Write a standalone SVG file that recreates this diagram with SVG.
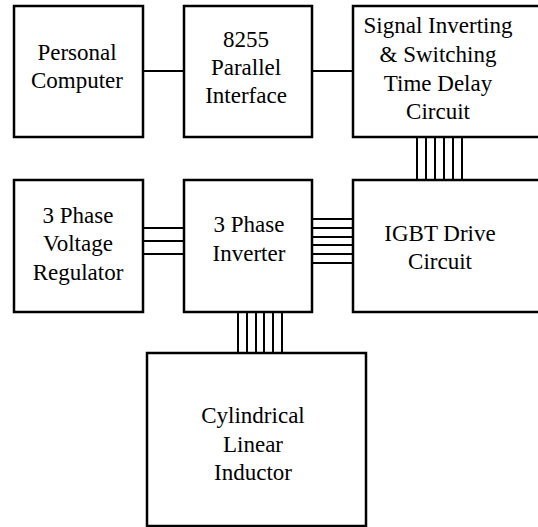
<svg xmlns="http://www.w3.org/2000/svg" width="538" height="527" viewBox="0 0 538 527">
<style>
.box{fill:#fff;stroke:#000;stroke-width:2.5}
.t{font-family:"Liberation Serif","Times New Roman",serif;font-size:23px;fill:#000;text-anchor:middle}
.w{stroke:#000;stroke-width:2;fill:none}
</style>
<rect width="538" height="527" fill="#fff"/>
<g id="connectors">
<line class="w" x1="143" y1="71" x2="184" y2="71"/>
<line class="w" x1="312" y1="71" x2="353" y2="71"/>
<path class="w" d="M417,137V180M426,137V180M435,137V180M444,137V180M453,137V180M462,137V180"/>
<path class="w" d="M143,228H184M143,241H184M143,254H184"/>
<path class="w" d="M312,219H353M312,228H353M312,237H353M312,245H353M312,254H353M312,263H353"/>
<path class="w" d="M238,312V353M247,312V353M256,312V353M264,312V353M273,312V353M282,312V353"/>
</g>
<g id="pc">
<rect class="box" x="14" y="6" width="129" height="131"/>
<text class="t" x="77" y="60">Personal</text>
<text class="t" x="77" y="88">Computer</text>
</g>
<g id="ppi">
<rect class="box" x="184" y="6" width="128" height="131"/>
<text class="t" x="246" y="47">8255</text>
<text class="t" x="246" y="75">Parallel</text>
<text class="t" x="246" y="103">Interface</text>
</g>
<g id="signal">
<rect class="box" x="353" y="6" width="195" height="131"/>
<text class="t" x="438" y="33">Signal Inverting</text>
<text class="t" x="438" y="62">&amp; Switching</text>
<text class="t" x="438" y="91">Time Delay</text>
<text class="t" x="438" y="119">Circuit</text>
</g>
<g id="regulator">
<rect class="box" x="14" y="180" width="129" height="132"/>
<text class="t" x="78" y="223">3 Phase</text>
<text class="t" x="78" y="251">Voltage</text>
<text class="t" x="78" y="280">Regulator</text>
</g>
<g id="inverter">
<rect class="box" x="184" y="180" width="128" height="132"/>
<text class="t" x="249" y="232">3 Phase</text>
<text class="t" x="249" y="261">Inverter</text>
</g>
<g id="igbt">
<rect class="box" x="353" y="180" width="195" height="132"/>
<text class="t" x="440" y="241">IGBT Drive</text>
<text class="t" x="440" y="269">Circuit</text>
</g>
<g id="inductor">
<rect class="box" x="147" y="353" width="219" height="173"/>
<text class="t" x="253" y="423">Cylindrical</text>
<text class="t" x="253" y="452">Linear</text>
<text class="t" x="253" y="480">Inductor</text>
</g>
</svg>
